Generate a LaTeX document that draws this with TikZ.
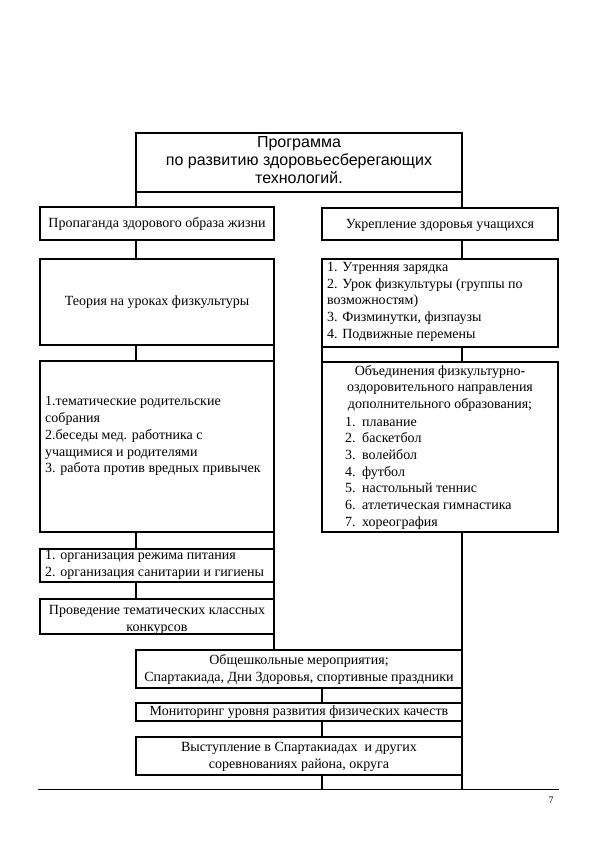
\documentclass[tikz,border=0pt]{standalone}
\usepackage{fontspec}
\setmainfont{Liberation Serif}
\newfontfamily\titlefont{Liberation Sans}
\begin{document}
\begin{tikzpicture}[x=1pt,y=-1pt,
  box/.style={draw, line width=1.3pt, inner sep=0pt, outer sep=0pt, anchor=north west},
  conn/.style={line width=1.3pt},
  txt/.style={font=\fontsize{14}{16.7}\selectfont, inner sep=0pt},
  ttl/.style={font=\titlefont\fontsize{16}{18.3}\selectfont, inner sep=0pt, align=center}]
\useasboundingbox (0,0) rectangle (595,842);
% boxes
\node[box, minimum width=326pt, minimum height=59pt] (top) at (136,133) {};
\node[box, minimum width=234pt, minimum height=33pt] (a1) at (40,207) {};
\node[box, minimum width=234pt, minimum height=86pt] (a2) at (40,259) {};
\node[box, minimum width=234pt, minimum height=171pt] (a3) at (40,361) {};
\node[box, minimum width=234pt, minimum height=33pt] (a4) at (40,549) {};
\node[box, minimum width=234pt, minimum height=35pt] (a5) at (40,599) {};
\node[box, minimum width=236pt, minimum height=32pt] (b1) at (322,208) {};
\node[box, minimum width=236pt, minimum height=88pt] (b2) at (322,259) {};
\node[box, minimum width=236pt, minimum height=170pt] (b3) at (322,362) {};
\node[box, minimum width=326pt, minimum height=38pt] (c1) at (136,650) {};
\node[box, minimum width=326pt, minimum height=18pt] (c2) at (136,703) {};
\node[box, minimum width=326pt, minimum height=38pt] (c3) at (136,737) {};
% texts
\node[ttl] (topt) at (299,160) {Программа\\по развитию здоровьесберегающих\\технологий.};
\node[txt] (a1t) at (157,223.5) {Пропаганда здорового образа жизни};
\node[txt] (a2t) at (157,302) {Теория на уроках физкультуры};
\node[txt, align=left, anchor=west] (a3t) at (45,436) {\strut 1.тематические родительские\\собрания\\2.беседы мед. работника с\\учащимися и родителями\\3. работа против вредных привычек\strut};
\node[txt, align=left, anchor=west] (a4t) at (45,564.6) {\strut 1. организация режима питания\\2. организация санитарии и гигиены\strut};
\node[txt, align=center] (a5t) at (157,619.5) {\strut Проведение тематических классных\\конкурсов\strut};
\node[txt] (b1t) at (440,225) {Укрепление здоровья учащихся};
\node[txt, align=left, anchor=west] (b2t) at (327,301.6) {\strut 1. Утренняя зарядка\\2. Урок физкультуры (группы по\\возможностям)\\3. Физминутки, физпаузы\\4. Подвижные перемены\strut};
\node[txt, align=center] (b3h) at (440,388.5) {\strut Объединения физкультурно-\\оздоровительного направления\\дополнительного образования;\strut};
\node[txt, align=left, anchor=west] (b3l) at (345,472.9) {\strut\makebox[17pt][l]{1.}плавание\\\makebox[17pt][l]{2.}баскетбол\\\makebox[17pt][l]{3.}волейбол\\\makebox[17pt][l]{4.}футбол\\\makebox[17pt][l]{5.}настольный теннис\\\makebox[17pt][l]{6.}атлетическая гимнастика\\\makebox[17pt][l]{7.}хореография\strut};
\node[txt, align=center] (c1t) at (299,670) {\strut Общешкольные мероприятия;\\Спартакиада, Дни Здоровья, спортивные праздники\strut};
\node[txt] (c2t) at (299,712.5) {Мониторинг уровня развития физических качеств};
\node[txt, align=center] (c3t) at (299,757) {\strut Выступление в Спартакиадах\ \ и других\\соревнованиях района, округа\strut};
% rule and page number
\coordinate (rl) at (38,789);
\coordinate (rr) at (559,789);
\draw[line width=0.7pt] (rl) -- (rr);
\node[font=\fontsize{10}{12}\selectfont, inner sep=0pt] (pg) at (551,800) {7};
% connectors
\draw[conn] (top.south west) -- (top.south west |- a1.north);
\draw[conn] (top.south east) -- (top.south east |- b1.north);
\draw[conn] (a1.south -| top.south west) -- (a2.north -| top.south west);
\draw[conn] (a2.south -| top.south west) -- (a3.north -| top.south west);
\draw[conn] (a2.south east) -- (a3.north east);
\draw[conn] (a3.south -| top.south west) -- (a4.north -| top.south west);
\draw[conn] (a3.south east) -- (a4.north east);
\draw[conn] (a4.south -| top.south west) -- (a5.north -| top.south west);
\draw[conn] (a4.south east) -- (a5.north east);
\draw[conn] (a5.south east) -- (a5.south east |- c1.north);
\draw[conn] (b1.south -| top.south east) -- (b2.north -| top.south east);
\draw[conn] (b2.south -| top.south east) -- (b3.north -| top.south east);
\draw[conn] (b2.south west) -- (b3.north west);
\draw[conn] (b3.south -| top.south east) -- (top.south east |- rl);
\draw[conn] (c1.south -| b1.west) -- (c2.north -| b1.west);
\draw[conn] (c2.south -| b1.west) -- (c3.north -| b1.west);
\draw[conn] (c3.south -| b1.west) -- (b1.west |- rl);
\end{tikzpicture}
\end{document}
